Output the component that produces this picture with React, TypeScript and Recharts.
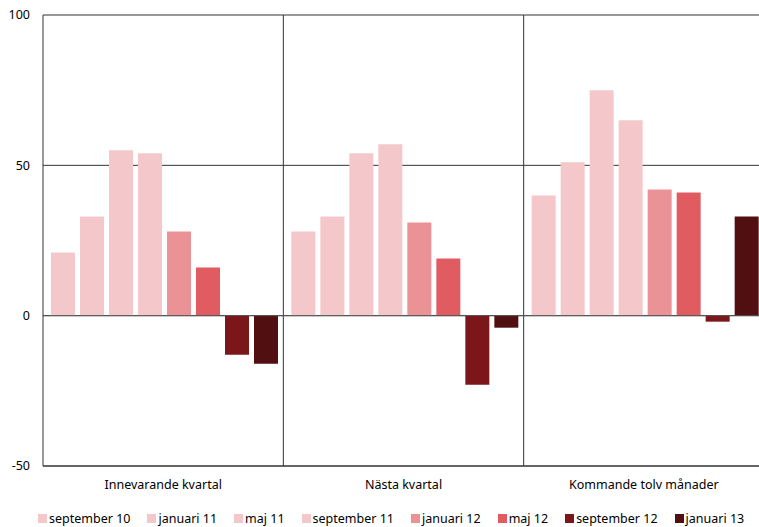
import React from 'react';
import { BarChart, Bar, XAxis, YAxis, CartesianGrid, ReferenceLine, Legend } from 'recharts';

const categories = ['Innevarande kvartal', 'Nästa kvartal', 'Kommande tolv månader'];
const seriesNames = [
  'september 10',
  'januari 11',
  'maj 11',
  'september 11',
  'januari 12',
  'maj 12',
  'september 12',
  'januari 13',
];
const seriesColors = ['#f4c8cb', '#f4c8cb', '#f4c8cb', '#f4c8cb', '#eb9296', '#e05c61', '#7b171b', '#520f12'];

const sep10 = [21, 28, 40];
const jan11 = [33, 33, 51];
const maj11 = [55, 54, 75];
const sep11 = [54, 57, 65];
const jan12 = [28, 31, 42];
const maj12 = [16, 19, 41];
const sep12 = [-13, -23, -2];
const jan13 = [-16, -4, 33];

const seriesValues = [sep10, jan11, maj11, sep11, jan12, maj12, sep12, jan13];
const yTicks = [-50, 0, 50, 100];

const data = categories.map((name, i) => {
  const row: Record<string, string | number> = { name };
  seriesNames.forEach((s, j) => {
    row[s] = seriesValues[j][i];
  });
  return row;
});

const FONT = '"Noto Sans", sans-serif';

const LegendContent = () => (
  <div
    style={{
      display: 'flex',
      justifyContent: 'flex-start',
      paddingLeft: 38,
      gap: 17,
      fontFamily: FONT,
      fontSize: 12.5,
      color: '#000',
    }}
  >
    {seriesNames.map((s, i) => (
      <div key={s} style={{ display: 'flex', alignItems: 'center' }}>
        <span
          style={{ display: 'inline-block', width: 9, height: 9, background: seriesColors[i], marginRight: 2 }}
        />
        <span>{s}</span>
      </div>
    ))}
  </div>
);

export default function App() {
  return (
    <div style={{ position: 'absolute', left: 0, top: 0, width: 759, height: 527, overflow: 'hidden', background: '#fff' }}>
      <BarChart
        width={766}
        height={527}
        data={data}
        margin={{ top: 15, right: 2, left: 0, bottom: 0 }}
        barCategoryGap={8}
        barGap={5}
      >
        <CartesianGrid
          stroke="#333"
          verticalCoordinatesGenerator={({ offset }: any) => [
            offset.left + offset.width / 3,
            offset.left + (2 * offset.width) / 3,
          ]}
        />
        <XAxis
          dataKey="name"
          axisLine={{ stroke: '#333' }}
          tickLine={false}
          height={44}
          tickMargin={8}
          tick={{ fill: '#000', fontSize: 12.5, fontFamily: FONT }}
        />
        <YAxis
          width={43}
          domain={[-50, 100]}
          ticks={yTicks}
          interval={0}
          axisLine={{ stroke: '#333' }}
          tickLine={false}
          tickMargin={7}
          tick={{ fill: '#000', fontSize: 12.5, fontFamily: FONT }}
        />
        <ReferenceLine y={0} stroke="#555" />
        {seriesNames.map((s, i) => (
          <Bar key={s} dataKey={s} fill={seriesColors[i]} isAnimationActive={false} />
        ))}
        <Legend
          verticalAlign="bottom"
          content={<LegendContent />}
          wrapperStyle={{ width: 759, left: 0, bottom: 0 }}
        />
      </BarChart>
    </div>
  );
}
